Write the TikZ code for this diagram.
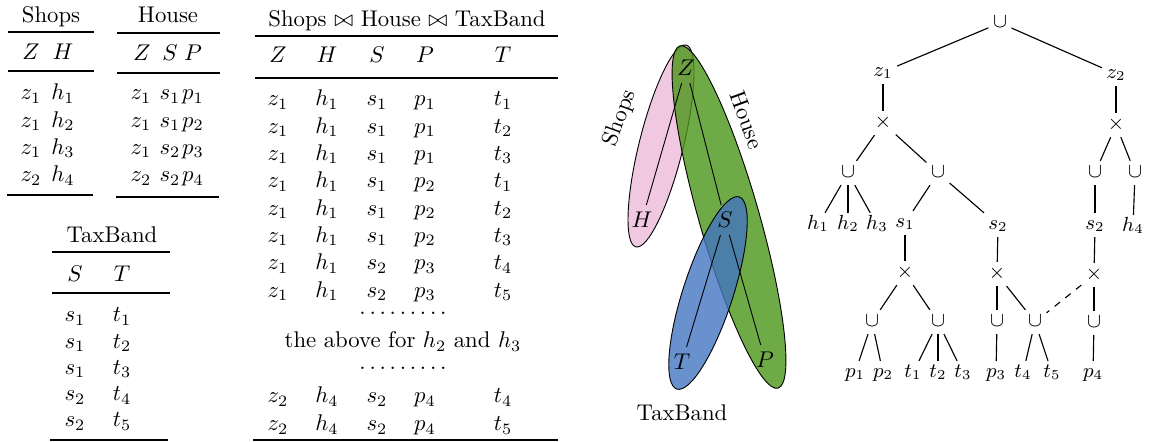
\documentclass[tikz,border=0pt]{standalone}
\usepackage{amsmath, amssymb}
\usepackage{tikz}
\usetikzlibrary{positioning, calc}

\definecolor{shopspink}{RGB}{236,186,217}
\definecolor{housegreen}{RGB}{74,149,24}
\definecolor{taxblue}{RGB}{67,117,192}

\begin{document}
\begin{tikzpicture}[x=0.44pt, y=-0.44pt,
    cell/.style={anchor=base, inner sep=0pt},
    rule/.style={line width=0.8pt},
    tnode/.style={font=\small, inner sep=1.8pt, text height=1.2ex, text depth=0.35ex},
    tedge/.style={line width=0.5pt},
    blob/.style={draw=black, line width=0.4pt, fill opacity=0.8},
    vtx/.style={inner sep=3pt}]
\useasboundingbox (0,0) rectangle (1149,442);

% Shops table
\node[cell] (shopsT) at (51,23) {Shops};
\draw[rule] (8,32) -- (94,32);
\node[cell] (shZ) at (31,60) {$Z$};
\node[cell] (shH) at (63,60) {$H$};
\draw[rule] (8,71) -- (94,71);
\foreach \z/\h [count=\i] in {z_1/h_1, z_1/h_2, z_1/h_3, z_2/h_4} {
    \node[cell] (shz\i) at (31,{100+27.3*(\i-1)}) {$\z$};
    \node[cell] (shh\i) at (63,{100+27.3*(\i-1)}) {$\h$};
}
\draw[rule] (7,195) -- (93,195);

% House table
\node[cell] (houseT) at (168,23) {House};
\draw[rule] (117,33) -- (220,33);
\node[cell] (hoZ) at (142,61) {$Z$};
\node[cell] (hoS) at (170,61) {$S$};
\node[cell] (hoP) at (193,61) {$P$};
\draw[rule] (117,73) -- (220,73);
\foreach \z/\s/\p [count=\i] in {z_1/s_1/p_1, z_1/s_1/p_2, z_1/s_2/p_3, z_2/s_2/p_4} {
    \node[cell] (hoz\i) at (141,{100+27.3*(\i-1)}) {$\z$};
    \node[cell] (hos\i) at (170,{100+27.3*(\i-1)}) {$\s$};
    \node[cell] (hop\i) at (193,{100+27.3*(\i-1)}) {$\p$};
}
\draw[rule] (116,197) -- (219,197);

% TaxBand table
\node[cell] (taxT) at (112,243) {TaxBand};
\draw[rule] (52,252) -- (170,252);
\node[cell] (taS) at (75,282) {$S$};
\node[cell] (taT) at (122,282) {$T$};
\draw[rule] (52,293) -- (170,293);
\foreach \s/\t [count=\i] in {s_1/t_1, s_1/t_2, s_1/t_3, s_2/t_4, s_2/t_5} {
    \node[cell] (tas\i) at (75,{322+26.2*(\i-1)}) {$\s$};
    \node[cell] (tat\i) at (122,{322+26.2*(\i-1)}) {$\t$};
}
\draw[rule] (50,440) -- (168,440);

% Join table
\node[cell] (joinT) at (407,27) {Shops $\bowtie$ House $\bowtie$ TaxBand};
\draw[rule] (255,36) -- (558,36);
\foreach \c/\x in {Z/278, H/327, S/377, P/425, T/503}
    \node[cell] (jh\c) at (\x,63) {$\c$};
\draw[rule] (255,78) -- (558,78);
\foreach \z/\h/\s/\p/\t [count=\i] in {z_1/h_1/s_1/p_1/t_1, z_1/h_1/s_1/p_1/t_2,
        z_1/h_1/s_1/p_1/t_3, z_1/h_1/s_1/p_2/t_1, z_1/h_1/s_1/p_2/t_2,
        z_1/h_1/s_1/p_2/t_3, z_1/h_1/s_2/p_3/t_4, z_1/h_1/s_2/p_3/t_5} {
    \node[cell] (jz\i) at (278,{106+27.3*(\i-1)}) {$\z$};
    \node[cell] (jh\i) at (327,{106+27.3*(\i-1)}) {$\h$};
    \node[cell] (js\i) at (377,{106+27.3*(\i-1)}) {$\s$};
    \node[cell] (jp\i) at (425,{106+27.3*(\i-1)}) {$\p$};
    \node[cell] (jt\i) at (503,{106+27.3*(\i-1)}) {$\t$};
}
\node[cell] (jdots1) at (403,315) {$\ldots\ldots\ldots$};
\node[cell] (jabove) at (403,348) {the above for $h_2$ and $h_3$};
\node[cell] (jdots2) at (403,370) {$\ldots\ldots\ldots$};
\foreach \t [count=\i from 9] in {t_4, t_5} {
    \node[cell] (jz\i) at (278,{403+28*(\i-9)}) {$z_2$};
    \node[cell] (jh\i) at (327,{403+28*(\i-9)}) {$h_4$};
    \node[cell] (js\i) at (377,{403+28*(\i-9)}) {$s_2$};
    \node[cell] (jp\i) at (425,{403+28*(\i-9)}) {$p_4$};
    \node[cell] (jt\i) at (503,{403+28*(\i-9)}) {$\t$};
}
\draw[rule] (253,440) -- (558,440);

% Hypergraph
\draw[blob, fill=shopspink, shift={(661,146)}, rotate=-14] (0,0) ellipse (22 and 104);
\draw[blob, fill=housegreen, shift={(729,217)}, rotate=16] (0,0) ellipse (30 and 178);
\draw[blob, fill=taxblue, shift={(708,293)}, rotate=-18] (0,0) ellipse (25 and 101);
\node[vtx] (Z) at (686,68) {$Z$};
\node[vtx] (H) at (642,220) {$H$};
\node[vtx] (S) at (725,220) {$S$};
\node[vtx] (T) at (682,362) {$T$};
\node[vtx] (P) at (765,360) {$P$};
\draw (Z) -- (H);
\draw (Z) -- (S);
\draw (S) -- (T);
\draw (S) -- (P);
\node[rotate=70] (shopsL) at (620,118) {Shops};
\node[rotate=-70] (houseL) at (747,120) {House};
\node (taxL) at (682,413) {TaxBand};

% Factorisation tree
\node[tnode] (root) at (1000,23) {$\cup$};
\node[tnode] (z1) at (883,72) {$z_1$};
\node[tnode] (z2) at (1116,74) {$z_2$};
\node[tnode] (xa) at (883,123) {$\times$};
\node[tnode] (xb) at (1116,125) {$\times$};
\node[tnode] (ua) at (848,173) {$\cup$};
\node[tnode] (ub) at (938,173) {$\cup$};
\node[tnode] (uc) at (1095,173) {$\cup$};
\node[tnode] (ud) at (1135,173) {$\cup$};
\node[tnode] (h1) at (818,225) {$h_1$};
\node[tnode] (h2) at (848,225) {$h_2$};
\node[tnode] (h3) at (877,225) {$h_3$};
\node[tnode] (s1) at (905,223) {$s_1$};
\node[tnode] (s2) at (998,225) {$s_2$};
\node[tnode] (s2b) at (1095,225) {$s_2$};
\node[tnode] (h4) at (1133,227) {$h_4$};
\node[tnode] (xc) at (905,273) {$\times$};
\node[tnode] (xd) at (997,274) {$\times$};
\node[tnode] (xe) at (1094,275) {$\times$};
\node[tnode] (ue) at (872,322) {$\cup$};
\node[tnode] (uf) at (938,322) {$\cup$};
\node[tnode] (ug) at (997,322) {$\cup$};
\node[tnode] (uh) at (1035,322) {$\cup$};
\node[tnode] (ui) at (1094,323) {$\cup$};
\foreach \n/\l/\x in {p1/p_1/855, p2/p_2/883, t1/t_1/913, t2/t_2/938, t3/t_3/963,
        p3/p_3/996, t4/t_4/1023, t5/t_5/1052, p4/p_4/1093}
    \node[tnode] (\n) at (\x,373) {$\l$};
\foreach \a/\b in {root/z1, root/z2, z1/xa, z2/xb, xa/ua, xa/ub, ua/h1, ua/h2, ua/h3,
        ub/s1, ub/s2, s1/xc, s2/xd, xc/ue, xc/uf, ue/p1, ue/p2, uf/t1, uf/t2, uf/t3,
        xd/ug, xd/uh, ug/p3, uh/t4, uh/t5, xb/uc, xb/ud, uc/s2b, ud/h4, s2b/xe,
        xe/ui, ui/p4}
    \draw[tedge] (\a) -- (\b);
\draw[tedge, dashed] (xe) -- (uh);
\end{tikzpicture}
\end{document}
